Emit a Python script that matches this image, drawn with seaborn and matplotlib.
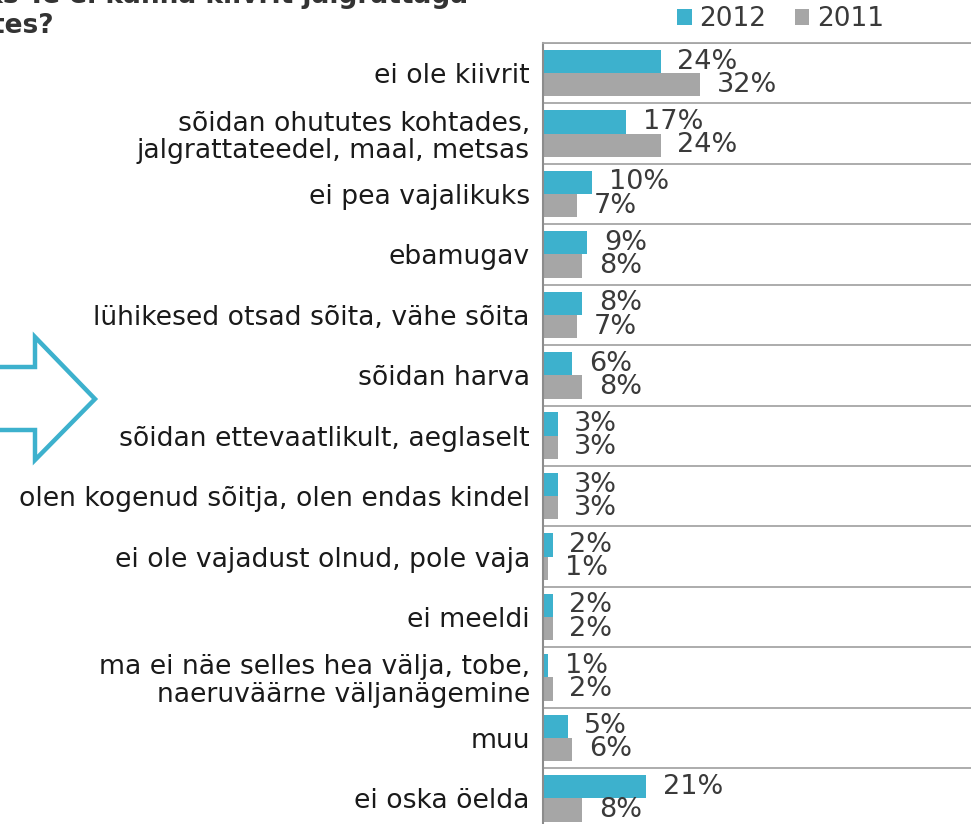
import numpy as np
import pandas as pd
import matplotlib
matplotlib.use("Agg")
import matplotlib.pyplot as plt
from matplotlib.patches import Patch, Polygon
import seaborn as sns

categories = [
    "ei ole kiivrit",
    "sõidan ohututes kohtades,\njalgrattateedel, maal, metsas",
    "ei pea vajalikuks",
    "ebamugav",
    "lühikesed otsad sõita, vähe sõita",
    "sõidan harva",
    "sõidan ettevaatlikult, aeglaselt",
    "olen kogenud sõitja, olen endas kindel",
    "ei ole vajadust olnud, pole vaja",
    "ei meeldi",
    "ma ei näe selles hea välja, tobe,\nnaeruväärne väljanägemine",
    "muu",
    "ei oska öelda",
]
values_2012 = [24, 17, 10, 9, 8, 6, 3, 3, 2, 2, 1, 5, 21]
values_2011 = [32, 24, 7, 8, 7, 8, 3, 3, 1, 2, 2, 6, 8]
series_names = ["2012", "2011"]
title_line1 = "Miks Te ei kanna kiivrit jalgrattaga"
title_line2 = "sõites?"

colors = {"2012": "#3DB1CD", "2011": "#A6A6A6"}

df = pd.DataFrame({
    "kategooria": categories * 2,
    "osakaal": values_2012 + values_2011,
    "aasta": [series_names[0]] * len(categories) + [series_names[1]] * len(categories),
})

sns.set_theme(style="white")
plt.rcParams["font.family"] = ["DejaVu Sans"]

W, H = 971, 824
fig = plt.figure(figsize=(W / 100, H / 100), dpi=100)

def fx(px):
    return px / W

def fy(py):
    return 1 - py / H

ax_left, ax_top, ax_bottom = 543, 43, 828.5
ax = fig.add_axes([fx(ax_left), fy(ax_bottom), 1 - fx(ax_left), fy(ax_top) - fy(ax_bottom)])

sns.barplot(data=df, y="kategooria", x="osakaal", hue="aasta", orient="h",
            palette=colors, width=0.77, gap=0, saturation=1, legend=False,
            errorbar=None, linewidth=0, edgecolor="none", ax=ax)

ax.set_xlim(0, (W - ax_left) / 4.9)
ax.set_ylim(len(categories) - 0.5, -0.5)
ax.set_xlabel("")
ax.set_ylabel("")
ax.set_xticks([])

for cont in ax.containers:
    ax.bar_label(cont, labels=[f"{int(round(v.get_width()))}%" for v in cont],
                 padding=12, fontsize=19.5, color="#3A3A3A")

ax.set_yticks(np.arange(-0.5, len(categories) + 0.5), minor=True)
ax.grid(which="minor", axis="y", color="#A6A6A6", lw=1.3)
ax.grid(which="major", visible=False)
ax.set_axisbelow(True)
ax.tick_params(axis="y", which="both", length=0)
ax.tick_params(axis="y", which="major", pad=9.5, labelsize=19.2, labelcolor="#1A1A1A")
for lbl in ax.get_yticklabels():
    lbl.set_linespacing(1.08)

for side in ["right", "bottom"]:
    ax.spines[side].set_visible(False)
ax.spines["top"].set_color("#A6A6A6")
ax.spines["top"].set_linewidth(1.3)
ax.spines["left"].set_color("#8C8C8C")
ax.spines["left"].set_linewidth(1.5)

handles = [Patch(facecolor=colors[s], edgecolor="none", label=s) for s in series_names]
fig.legend(handles=handles, loc="center left", bbox_to_anchor=(fx(677), fy(19)),
           ncol=2, frameon=False, fontsize=19, handlelength=0.55, handleheight=0.55,
           handletextpad=0.28, columnspacing=1.1, borderaxespad=0, borderpad=0,
           labelcolor="#3A3A3A")

fig.text(fx(-50), fy(3), title_line1, fontsize=19, fontweight="bold",
         color="#333333", ha="left", va="baseline")
fig.text(fx(-50), fy(33), title_line2, fontsize=19, fontweight="bold",
         color="#333333", ha="left", va="baseline")

arrow_px = [(-30, 367), (35, 367), (35, 337), (95, 399), (35, 460), (35, 430), (-30, 430)]
arrow = Polygon([(fx(x), fy(y)) for x, y in arrow_px], closed=True, fill=False,
                edgecolor="#3DB1CD", lw=3.2, joinstyle="miter",
                transform=fig.transFigure, clip_on=False)
fig.add_artist(arrow)

fig.savefig("out.png", dpi=100)
